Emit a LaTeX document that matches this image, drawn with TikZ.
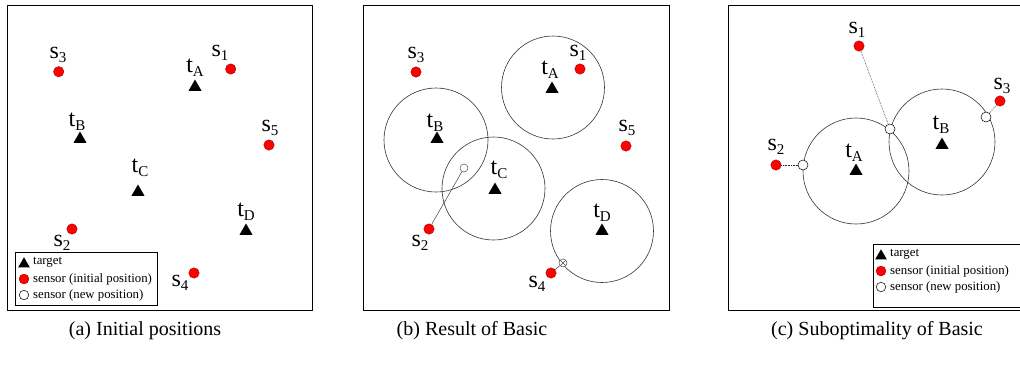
\documentclass[tikz,border=0pt]{standalone}
\usepackage{fontspec}
\setmainfont{Liberation Serif}
\usetikzlibrary{shapes.geometric}

\newcommand{\lab}[2]{#1\raisebox{-0.4ex}{\fontsize{15}{15}\selectfont #2}}

\tikzset{
  target/.style={regular polygon, regular polygon sides=3, fill=black, inner sep=0pt, minimum size=15pt},
  sensor/.style={circle, fill=red, draw=red!55!black, line width=0.3pt, inner sep=0pt, minimum size=10.5pt},
  newpos/.style={circle, fill=white, draw=black, line width=0.5pt, inner sep=0pt, minimum size=10pt},
  lbl/.style={font=\fontsize{24}{24}\selectfont, inner sep=0pt},
  reach/.style={draw=black!80, line width=0.6pt},
  move/.style={draw=black!75, line width=0.5pt},
  legtext/.style={font=\fontsize{12.8}{12.8}\selectfont, anchor=west, inner sep=0pt},
  capt/.style={font=\fontsize{20}{20}\selectfont}
}

\begin{document}
\begin{tikzpicture}[x=1pt, y=-1pt]
  \useasboundingbox (0,0) rectangle (1020,365);

  % ---- (a) Initial positions ----
  \draw[line width=0.7pt] (7,5) rectangle (312,310);
  \node[sensor] (aS3) at (58.7,71.7) {};
  \node[lbl] (aL3) at (58,55) {\lab{s}{3}};
  \node[sensor] (aS1) at (230.7,69) {};
  \node[lbl] (aL1) at (220,53) {\lab{s}{1}};
  \node[target] (aTA) at (195,87) {};
  \node[lbl] (aLA) at (195,68) {\lab{t}{A}};
  \node[target] (aTB) at (80,139) {};
  \node[lbl] (aLB) at (77,122) {\lab{t}{B}};
  \node[sensor] (aS5) at (269,145) {};
  \node[lbl] (aL5) at (270,128) {\lab{s}{5}};
  \node[target] (aTC) at (138,192) {};
  \node[lbl] (aLC) at (140,168) {\lab{t}{C}};
  \node[target] (aTD) at (246,231) {};
  \node[lbl] (aLD) at (246,212) {\lab{t}{D}};
  \node[sensor] (aS2) at (72,229) {};
  \node[lbl] (aL2) at (62,243) {\lab{s}{2}};
  \node[sensor] (aS4) at (194,273) {};
  \node[lbl] (aL4) at (180,283) {\lab{s}{4}};

  % legend
  \draw[line width=0.6pt] (15,252) rectangle (157,305);
  \node[target, minimum size=13.5pt] (aKT) at (24,264) {};
  \node[legtext] at (33,262) {target};
  \node[sensor, minimum size=10pt] (aKS) at (24,279) {};
  \node[legtext] at (33,279) {sensor (initial position)};
  \node[newpos, minimum size=9.5pt] (aKN) at (24,295) {};
  \node[legtext] at (33,295) {sensor (new position)};

  % ---- (b) Result of Basic ----
  \draw[line width=0.7pt] (363,5) rectangle (669,310);
  \node[target] (bTA) at (552,89) {};
  \node[lbl] (bLA) at (550,70) {\lab{t}{A}};
  \node[target] (bTB) at (437,139) {};
  \node[lbl] (bLB) at (435,123) {\lab{t}{B}};
  \node[target] (bTC) at (495,190) {};
  \node[lbl] (bLC) at (499,170) {\lab{t}{C}};
  \node[target] (bTD) at (602,231) {};
  \node[lbl] (bLD) at (602,213) {\lab{t}{D}};
  \draw[reach] (bTA.center) ++(1,-1.5) circle[radius=51.5];
  \draw[reach] (bTB.center) ++(-1,1) circle[radius=52];
  \draw[reach] (bTC.center) ++(-1.5,-1.5) circle[radius=51.5];
  \draw[reach] (bTD.center) circle[radius=51.5];
  \node[sensor] (bS3) at (416,72) {};
  \node[lbl] (bL3) at (416,55) {\lab{s}{3}};
  \node[sensor] (bS1) at (580,69) {};
  \node[lbl] (bL1) at (578,53) {\lab{s}{1}};
  \node[sensor] (bS5) at (626,146) {};
  \node[lbl] (bL5) at (627,128) {\lab{s}{5}};
  \node[sensor] (bS2) at (429,229) {};
  \node[lbl] (bL2) at (420,243) {\lab{s}{2}};
  \node[sensor] (bS4) at (551,273) {};
  \node[lbl] (bL4) at (537,284) {\lab{s}{4}};
  \node[newpos, draw=black!70, minimum size=8pt] (bN2) at (464,168) {};
  \node[newpos, draw=black!70, minimum size=8pt,
    path picture={\draw[black!70, line width=0.5pt]
      (path picture bounding box.north west) -- (path picture bounding box.south east)
      (path picture bounding box.north east) -- (path picture bounding box.south west);}]
    (bN4) at (563,263) {};
  \draw[move] (bS2) -- (bN2);
  \draw[move] (bS4) -- (bN4);

  % ---- (c) Suboptimality of Basic ----
  \draw[line width=0.7pt] (728,5) rectangle (1030,310);
  \node[target] (cTA) at (856,171) {};
  \node[lbl] (cLA) at (854,153) {\lab{t}{A}};
  \node[target] (cTB) at (942,145) {};
  \node[lbl] (cLB) at (941,125) {\lab{t}{B}};
  \draw[reach] (cTA.center) circle[radius=53];
  \draw[reach] (cTB.center) ++(0,-3) circle[radius=53];
  \node[sensor] (cS1) at (859,46) {};
  \node[lbl] (cL1) at (857,30) {\lab{s}{1}};
  \node[sensor] (cS3) at (1000,101) {};
  \node[lbl] (cL3) at (1002,86) {\lab{s}{3}};
  \node[sensor] (cS2) at (776,165) {};
  \node[lbl] (cL2) at (776,147) {\lab{s}{2}};
  \node[newpos] (cN2) at (803,165) {};
  \node[newpos] (cN1) at (890,129) {};
  \node[newpos] (cN3) at (986,117) {};
  \draw[move, draw=black!85, line width=0.6pt, densely dotted] (cS1) -- (cN1);
  \draw[move, draw=black!85, line width=0.6pt, densely dotted] (cS2) -- (cN2);
  \draw[move, draw=black!85, line width=0.6pt, densely dotted] (cS3) -- (cN3);

  % legend
  \draw[line width=0.6pt, fill=white] (873,244) rectangle (1030,307);
  \node[target, minimum size=13.5pt] (cKT) at (881,256) {};
  \node[legtext] at (890,254) {target};
  \node[sensor, minimum size=10pt] (cKS) at (881,271) {};
  \node[legtext] at (890,271) {sensor (initial position)};
  \node[newpos, minimum size=9.5pt] (cKN) at (881,287) {};
  \node[legtext] at (890,287) {sensor (new position)};

  % ---- captions ----
  \node[capt] (capA) at (145,331) {(a) Initial positions};
  \node[capt] (capB) at (472,331) {(b) Result of Basic};
  \node[capt] (capC) at (877,331) {(c) Suboptimality of Basic};

\end{tikzpicture}
\end{document}
